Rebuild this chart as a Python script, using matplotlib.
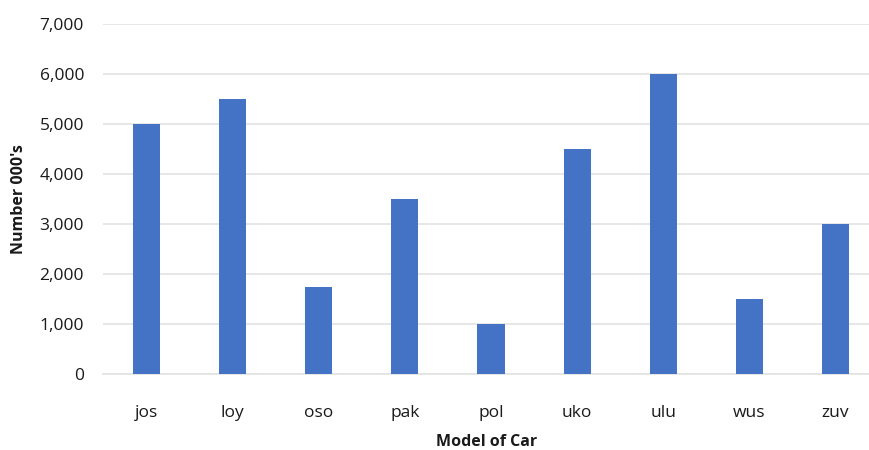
import matplotlib
matplotlib.use("Agg")
import matplotlib.pyplot as plt
from matplotlib.ticker import FuncFormatter, MultipleLocator

models = ["jos", "loy", "oso", "pak", "pol", "uko", "ulu", "wus", "zuv"]
counts = [5000, 5500, 1750, 3500, 1000, 4500, 6000, 1500, 3000]

plt.rcParams['font.family'] = ['Open Sans', 'DejaVu Sans']

fig = plt.figure(figsize=(8.69, 4.5), dpi=100)
ax = fig.add_axes([0.1191, 0.1678, 0.8809, 0.7778])

x = range(len(models))
ax.bar(x, counts, width=0.315, color="#4472C4", zorder=3)

ax.set_xlim(-0.5, 8.389)
ax.set_ylim(0, 7000)
ax.yaxis.set_major_locator(MultipleLocator(1000))
ax.yaxis.set_major_formatter(FuncFormatter(lambda v, p: f"{int(v):,}"))
ax.set_xticks(list(x))
ax.set_xticklabels(models)

ax.grid(axis="y", color="#e3e3e3", linewidth=1.2, zorder=0)
for s in ["top", "right", "left"]:
    ax.spines[s].set_visible(False)
ax.spines["bottom"].set_color("#e3e3e3")
ax.spines["bottom"].set_linewidth(1.2)

ax.tick_params(axis="both", length=0, labelsize=12.5, colors="#1a1a1a")
ax.tick_params(axis="x", pad=22)
ax.tick_params(axis="y", pad=14)

ax.set_xlabel("Model of Car", fontsize=11.5, fontweight="bold", color="#1a1a1a", labelpad=9)
ax.set_ylabel("Number 000's", fontsize=11.5, fontweight="bold", color="#1a1a1a", labelpad=9)

fig.savefig("out.png", dpi=100)
